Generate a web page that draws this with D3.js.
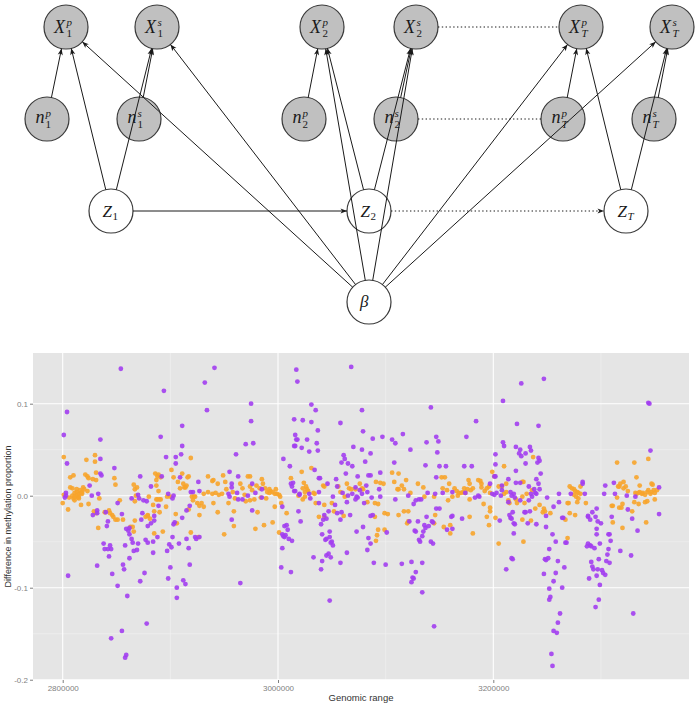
<!DOCTYPE html>
<html><head><meta charset="utf-8">
<script src="https://cdn.jsdelivr.net/npm/d3@7"></script>
<style>body{margin:0;background:#fff} svg{display:block}</style>
</head><body><svg id="c" width="700" height="710"></svg>
<script>
// ---------- DATA (position in kb, difference in methylation proportion) ----------
const purplePoints = [
[2801,0.066],[2804,0.091],[2804,0.035],[2803,0.000],[2802,-0.002],[2803,0.003],[2805,-0.087],
[2835,0.061],[2835,0.040],[2836,0.022],[2835,0.024],[2825,0.011],[2827,0.000],[2833,0.002],[2832,-0.016],[2832,-0.019],[2828,-0.021],[2832,-0.076],
[2838,-0.052],[2839,-0.058],[2842,-0.058],[2845,-0.058],[2840,-0.018],[2841,-0.033],[2842,-0.028],[2843,-0.066],[2844,-0.054],[2846,-0.085],[2845,-0.155],
[2848,0.030],[2851,-0.008],[2851,-0.098],[2854,0.138],[2855,-0.020],[2855,-0.147],[2856,-0.075],[2857,-0.080],[2858,-0.054],[2858,-0.176],[2859,-0.173],[2859,-0.036],[2860,-0.109],[2861,-0.038],[2862,-0.035],[2862,-0.042],[2862,-0.068],[2864,-0.047],[2865,-0.051],[2864,-0.003],[2866,-0.060],[2869,-0.059],[2870,-0.052],[2871,-0.003],[2870,0.001],[2872,0.021],[2872,-0.093],[2874,-0.019],[2873,-0.026],[2875,-0.005],[2876,-0.084],[2877,-0.048],[2878,-0.006],[2878,-0.139],[2879,-0.033],[2879,-0.051],[2882,-0.030],[2882,0.010],[2884,-0.050],[2884,-0.062],[2885,-0.027],[2885,-0.022],[2888,-0.045],[2889,-0.011],[2891,0.064],[2892,0.021],[2894,0.114],[2896,0.042],[2897,-0.060],[2898,0.002],[2898,-0.090],[2899,-0.053],[2901,-0.056],[2902,-0.003],[2903,0.000],[2903,-0.031],[2904,-0.029],[2902,-0.045],[2900,-0.078],[2905,0.035],[2905,0.042],[2906,-0.100],[2906,-0.111],[2908,-0.052],[2909,0.020],[2910,0.045],[2911,0.076],[2911,0.054],[2911,-0.024],[2912,-0.092],[2914,-0.096],[2915,-0.016],[2915,-0.047],[2917,-0.057],[2918,-0.011],[2918,-0.075],[2919,0.004],[2921,0.004],[2923,-0.045],[2924,-0.047],[2926,0.015],[2927,0.005],[2927,-0.045],
[2932,0.123],[2934,0.093],[2941,0.139],[2961,0.045],[2955,0.026],[2963,0.021],[2957,0.013],[2957,0.009],[2954,0.002],[2955,-0.001],[2962,0.003],[2963,-0.004],[2967,-0.004],[2970,0.056],[2972,0.000],[2975,0.100],[2975,0.081],[2977,0.057],[2976,0.013],[2976,-0.016],[2979,0.003],[2985,-0.002],[2985,0.007],[2957,-0.026],[2965,-0.095],
[3017,0.137],[3018,0.124],[3068,0.140],[3031,0.099],[3035,0.093],[3015,0.083],[3023,0.082],[3031,0.080],[3058,0.079],[3078,0.093],[3037,0.071],[3016,0.066],[3017,0.061],[3018,0.061],[3027,0.061],[3079,0.070],[3088,0.062],[3097,0.064],[3106,0.061],[3109,0.057],[3116,0.067],[3015,0.054],[3016,0.054],[3022,0.052],[3029,0.048],[3036,0.057],[3037,0.049],[3070,0.053],[3078,0.050],[3086,0.046],[3061,0.044],[3062,0.040],[3059,0.036],[3065,0.035],[3069,0.032],[3081,0.037],[3005,0.040],[3011,0.032],[3034,0.028],[3038,0.019],[3039,0.019],[3054,0.018],[3063,0.024],[3074,0.021],[3086,0.022],[3095,0.025],[3108,0.036],[3123,0.050],[3138,0.058],[3142,0.096],[3147,0.064],[3149,0.059],[3148,0.047],[3137,0.033],[3150,0.032],[3156,0.032],[3147,0.020],[3175,0.064],[3184,0.081],[3173,0.032],[3180,0.032],[3202,0.045],[3202,0.034],[3201,0.021],[3202,0.021],
[3012,0.013],[3014,0.014],[3013,0.010],[3015,0.005],[3016,0.005],[3020,0.002],[3020,0.001],[3029,0.002],[3030,-0.003],[3038,0.004],[3038,-0.008],[3046,0.013],[3051,-0.001],[3055,0.010],[3053,-0.010],[3055,-0.019],[3060,0.003],[3064,-0.007],[3065,0.000],[3069,0.002],[3072,-0.004],[3073,-0.001],[3074,-0.002],[3076,0.006],[3078,0.002],[3080,-0.008],[3082,0.011],[3083,0.004],[3087,-0.002],[3094,0.007],[3095,-0.001],[3088,-0.021],[3086,-0.022],[3084,0.022],[3072,0.009],[3109,-0.004],[3121,0.000],[3126,-0.009],[3128,-0.005],[3131,-0.004],[3133,-0.004],[3139,0.003],[3146,0.002],[3147,-0.014],[3150,-0.014],[3153,0.003],[3162,0.004],[3162,-0.022],[3161,-0.023],[3171,-0.025],[3174,0.003],[3183,-0.002],[3187,-0.001],[3186,0.000],[3197,0.013],[3199,0.002],[3201,0.001],[3004,-0.012],[3019,-0.017],[3043,-0.021],[3047,-0.017],[3067,-0.021],
[3003,-0.078],[3004,-0.057],[3004,-0.042],[3005,-0.044],[3007,-0.043],[3006,-0.045],[3006,-0.033],[3008,-0.032],[3009,-0.037],[3010,-0.047],[3013,-0.049],[3012,-0.083],[3021,-0.028],[3033,-0.067],[3040,-0.080],[3041,-0.071],[3041,-0.042],[3040,-0.031],[3042,-0.026],[3045,-0.025],[3044,-0.048],[3045,-0.047],[3049,-0.051],[3050,-0.050],[3051,-0.054],[3048,-0.045],[3048,-0.039],[3045,-0.065],[3047,-0.063],[3049,-0.067],[3048,-0.114],[3058,-0.026],[3059,-0.018],[3058,-0.073],[3064,-0.062],[3073,-0.039],[3079,-0.034],[3084,-0.046],[3086,-0.052],[3083,-0.059],[3089,-0.073],[3101,-0.040],[3100,-0.075],[3115,-0.074],[3122,-0.028],[3124,-0.072],[3128,-0.083],[3125,-0.089],[3126,-0.090],[3124,-0.094],[3134,-0.105],[3145,-0.142],[3134,-0.073],[3127,-0.038],[3128,-0.039],[3130,-0.028],[3131,-0.048],[3132,-0.050],[3134,-0.044],[3135,-0.039],[3137,-0.035],[3136,-0.032],[3138,-0.023],[3140,-0.033],[3143,-0.028],[3144,-0.029],[3142,-0.050],[3144,-0.052],[3157,-0.037],[3162,-0.036],[3206,-0.027],
[3226,0.122],[3247,0.127],[3209,0.103],[3344,0.101],[3345,0.100],[3222,0.078],[3242,0.076],[3209,0.058],[3210,0.054],[3221,0.053],[3225,0.050],[3224,0.046],[3226,0.043],[3230,0.046],[3234,0.053],[3235,0.049],[3242,0.041],[3243,0.038],[3241,0.036],[3346,0.049],[3221,0.027],[3230,0.035],[3244,0.024],[3214,0.018],[3221,0.014],[3225,0.014],[3208,0.011],[3233,0.010],[3238,0.007],[3239,0.003],[3240,0.002],[3235,0.002],[3236,-0.001],[3233,-0.005],[3243,0.007],[3240,0.018],[3242,0.013],[3250,-0.002],[3256,-0.012],[3261,0.002],[3261,-0.007],[3272,0.002],[3283,0.013],[3283,0.015],[3285,0.002],[3288,-0.022],[3292,-0.018],[3296,-0.014],[3304,0.011],[3303,0.002],[3312,0.014],[3313,0.002],[3324,0.000],[3325,-0.015],[3332,-0.001],[3354,0.009],[3354,-0.020],[3216,0.004],[3217,0.000],[3219,0.002],[3220,-0.002],[3225,-0.005],[3207,0.000],[3208,0.006],[3230,-0.018],[3234,-0.017],[3203,0.003],[3214,-0.007],[3215,-0.021],[3216,-0.024],[3249,-0.022],[3265,-0.024],[3264,-0.024],[3288,-0.023],[3295,-0.023],
[3212,-0.080],[3217,-0.068],[3218,-0.069],[3219,-0.041],[3219,-0.030],[3220,-0.031],[3218,-0.018],[3217,-0.025],[3232,-0.030],[3229,-0.018],[3240,-0.031],[3249,-0.034],[3247,-0.085],[3248,-0.069],[3249,-0.070],[3251,-0.068],[3252,-0.058],[3255,-0.042],[3258,-0.050],[3260,-0.071],[3258,-0.084],[3256,-0.093],[3252,-0.101],[3264,-0.100],[3253,-0.110],[3252,-0.113],[3262,-0.128],[3260,-0.138],[3256,-0.147],[3259,-0.149],[3254,-0.172],[3255,-0.185],[3266,-0.078],[3267,-0.051],[3268,-0.051],[3290,-0.026],[3297,-0.028],[3300,-0.030],[3296,-0.036],[3296,-0.042],[3299,-0.052],[3307,-0.042],[3308,-0.042],[3309,-0.049],[3307,-0.058],[3306,-0.064],[3308,-0.073],[3305,-0.071],[3288,-0.052],[3290,-0.054],[3291,-0.055],[3294,-0.057],[3287,-0.055],[3291,-0.072],[3292,-0.077],[3293,-0.080],[3297,-0.080],[3298,-0.069],[3301,-0.081],[3302,-0.084],[3304,-0.086],[3296,-0.087],[3289,-0.090],[3299,-0.097],[3298,-0.113],[3295,-0.121],[3310,-0.023],[3318,-0.060],[3328,-0.065],[3330,-0.128],[3329,-0.025],[3334,-0.038]
];
const orangePoints = [
[2801,0.042],[2800,-0.008],[2801,0.001],[2805,-0.015],[2806,-0.002],[2807,0.020],[2807,0.009],[2809,0.008],[2810,0.022],
[2809,0.000],[2811,0.003],[2813,0.004],[2813,0.000],[2815,0.002],[2815,-0.001],[2817,0.003],[2816,0.006],[2818,0.004],[2819,0.009],[2820,0.007],[2810,-0.003],[2811,-0.001],[2814,-0.002],[2815,-0.003],[2818,0.002],
[2811,-0.005],[2813,0.007],[2817,-0.010],[2821,0.023],[2823,0.021],[2822,0.039],[2823,0.005],[2824,0.019],[2824,-0.009],[2828,0.018],[2830,0.044],[2830,0.037],[2831,0.025],[2831,0.017],[2829,-0.017],[2831,-0.019],[2833,-0.035],[2834,-0.003],[2839,-0.018],[2843,-0.016],[2844,-0.019],[2846,-0.021],[2847,-0.023],[2848,0.019],[2849,0.012],[2849,-0.026],[2851,-0.026],[2853,-0.005],[2856,-0.026],[2863,-0.034],[2865,-0.034],[2866,0.012],[2867,0.007],[2867,-0.006],[2866,-0.039],[2867,-0.027],[2868,0.000],[2869,0.009],[2877,-0.023],[2879,-0.021],[2879,-0.022],[2880,-0.001],[2881,-0.025],[2884,-0.010],[2885,-0.017],[2885,-0.041],[2886,0.024],[2887,0.017],[2887,0.011],[2887,-0.004],[2888,-0.004],[2890,-0.004],[2891,-0.004],[2888,0.021],[2889,0.023],[2889,0.005],[2890,-0.018],[2891,0.020],[2893,-0.039],[2896,-0.012],[2897,-0.001],[2900,-0.001],[2901,0.028],[2903,0.020],[2905,-0.020],[2906,-0.030],[2907,0.015],[2909,0.008],[2911,0.024],[2912,0.013],[2913,0.009],[2914,0.009],[2915,0.011],[2916,0.020],[2917,0.021],[2917,-0.015],[2919,0.041],[2919,-0.040],[2920,-0.001],[2921,-0.005],[2922,-0.001],[2923,-0.001],[2925,-0.008],[2927,-0.011],[2927,-0.021],[2926,-0.045],
[2931,0.002],[2935,0.004],[2939,0.002],[2942,0.003],[2945,0.001],[2948,0.002],[2929,-0.008],[2931,-0.012],[2935,0.021],[2939,0.016],[2940,0.017],[2940,-0.008],[2944,0.013],[2949,0.022],[2951,0.015],[2952,0.007],[2954,-0.008],[2958,0.004],[2960,-0.003],[2965,0.013],[2967,0.008],[2969,0.001],[2970,-0.006],[2972,0.021],[2974,0.021],[2974,0.010],[2974,-0.005],[2976,0.006],[2978,-0.004],[2980,0.011],[2981,-0.018],[2983,0.008],[2984,-0.002],
[2944,-0.018],[2959,-0.017],[2950,-0.042],[2959,-0.033],[2979,-0.036],
[2985,0.018],[2986,0.013],[2988,0.008],[2990,0.004],[2992,0.003],[2993,0.005],[2995,0.004],[2997,0.002],[2999,0.002],[3001,0.001],[3002,-0.001],[2998,0.007],[2992,0.007],[2989,-0.003],[2997,-0.012],[3008,-0.019],[3003,-0.008],[3012,0.019],[3022,0.026],[3024,0.014],[3026,0.010],[3027,0.007],[3028,0.005],[3023,0.008],[3025,0.004],[3019,0.000],[3023,-0.004],[3025,-0.001],[3031,0.030],[3033,0.003],[3034,0.002],[3035,-0.008],[3043,-0.010],[3038,-0.023],[3043,-0.023],[3042,0.011],[3043,0.010],[3050,-0.008],[3056,0.010],[3058,0.004],[3064,0.013],[3066,0.008],[3068,0.007],[3072,0.007],[3062,-0.001],[3076,0.013],[3078,0.008],[3079,0.007],[3083,-0.007],[3090,-0.008],[3093,-0.009],[3091,0.015],[3095,0.014],[3098,0.013],[3099,-0.019],[3102,-0.020],[3106,0.025],[3108,0.015],[3111,0.007],[3112,0.007],[3112,0.024],[3115,0.011],[3117,0.007],[3119,0.017],[3117,-0.017],[3121,-0.017],[3123,0.003],[3130,0.013],[3135,0.009],[3136,-0.001],[3145,-0.001],[3152,0.020],[3155,0.020],[3153,0.008],[3157,0.006],[3159,0.013],[3158,-0.005],[3164,0.008],[3166,0.005],[3168,0.003],[3170,0.003],[3172,0.004],[3173,0.008],[3174,0.003],[3176,0.007],[3177,0.017],[3178,0.013],[3179,0.006],[3181,0.008],[3162,-0.001],[3167,0.000],[3178,-0.004],[3186,0.017],[3188,0.016],[3189,0.013],[3189,0.009],[3192,0.005],[3194,0.008],[3196,0.010],[3197,0.003],[3191,-0.009],[3197,-0.013],[3199,0.026],[3201,0.021],[3205,0.010],
[2987,-0.032],[2995,-0.029],[3001,-0.040],[3052,-0.017],[3061,-0.022],[3090,-0.023],[3093,-0.037],[3092,-0.043],[3091,-0.049],[3099,-0.037],[3112,-0.021],[3120,-0.030],[3121,-0.028],[3145,-0.030],[3146,-0.021],[3154,-0.034],[3160,-0.032],[3160,-0.041],[3178,-0.023],[3181,-0.041],[3194,-0.023],[3196,-0.032],[3197,-0.017],[3205,-0.052],
[3237,0.042],[3210,0.032],[3212,0.013],[3208,0.010],[3210,0.002],[3212,0.004],[3214,-0.005],[3215,-0.008],[3221,-0.004],[3222,-0.008],[3227,0.015],[3228,0.015],[3227,-0.001],[3229,-0.008],[3231,0.002],[3236,0.006],[3239,-0.014],[3243,-0.010],[3247,-0.014],[3248,-0.017],[3253,-0.019],
[3271,0.010],[3273,0.008],[3275,0.007],[3276,0.005],[3278,0.004],[3279,0.003],[3281,0.002],[3275,0.001],[3277,-0.001],[3279,-0.003],[3278,-0.007],
[3269,-0.008],[3270,-0.008],[3271,-0.019],[3281,0.010],[3286,-0.008],[3310,-0.011],[3311,-0.011],[3315,0.036],[3316,0.010],[3317,0.010],[3318,0.013],[3321,0.015],[3321,0.008],[3323,0.010],[3325,0.005],[3317,-0.013],[3319,-0.013],[3320,-0.009],[3331,0.036],[3333,0.020],
[3332,0.003],[3333,0.002],[3335,0.003],[3336,0.004],[3338,0.002],[3339,0.003],[3341,0.001],[3343,0.004],[3344,0.006],[3346,0.002],[3347,0.004],[3349,0.006],[3350,0.003],[3352,0.006],[3347,0.013],[3348,0.012],
[3344,0.040],[3336,0.011],[3331,-0.007],[3335,-0.009],[3341,-0.007],[3343,-0.006],[3350,-0.004],[3315,-0.002],
[3202,-0.024],[3228,-0.050],[3227,-0.026],[3235,-0.027],[3246,-0.018],[3267,-0.026],[3269,-0.046],[3276,-0.021],[3311,-0.029],[3320,-0.035],[3329,-0.017],[3342,-0.029]
];
const xTicks = [2800000, 3000000, 3200000];
const xMinorTicks = [2900000, 3100000, 3300000];
const yTicks = [-0.2, -0.1, 0.0, 0.1];
const yMinorTicks = [-0.15, -0.05, 0.05];
const xTitle = "Genomic range";
const yTitle = "Difference in methylation proportion";

// ---------- DIAGRAM (graphical model) ----------
const GRAY = "#c0c0c0";
const diagramNodes = [
  {id:"X1p", x:66,  y:27,  fill:GRAY, main:"X", sup:"p", sub:"1"},
  {id:"X1s", x:157, y:27,  fill:GRAY, main:"X", sup:"s", sub:"1"},
  {id:"X2p", x:322, y:27,  fill:GRAY, main:"X", sup:"p", sub:"2"},
  {id:"X2s", x:416, y:27,  fill:GRAY, main:"X", sup:"s", sub:"2"},
  {id:"XTp", x:581, y:27,  fill:GRAY, main:"X", sup:"p", sub:"T"},
  {id:"XTs", x:672, y:27,  fill:GRAY, main:"X", sup:"s", sub:"T"},
  {id:"n1p", x:47,  y:119, fill:GRAY, main:"n", sup:"p", sub:"1"},
  {id:"n1s", x:139, y:119, fill:GRAY, main:"n", sup:"s", sub:"1"},
  {id:"n2p", x:304, y:119, fill:GRAY, main:"n", sup:"p", sub:"2"},
  {id:"n2s", x:396, y:119, fill:GRAY, main:"n", sup:"s", sub:"2"},
  {id:"nTp", x:563, y:119, fill:GRAY, main:"n", sup:"p", sub:"T"},
  {id:"nTs", x:654, y:119, fill:GRAY, main:"n", sup:"s", sub:"T"},
  {id:"Z1",  x:111, y:211, fill:"#fff", main:"Z", sub:"1"},
  {id:"Z2",  x:369, y:211, fill:"#fff", main:"Z", sub:"2"},
  {id:"ZT",  x:626, y:211, fill:"#fff", main:"Z", sub:"T"},
  {id:"B",   x:369, y:302, fill:"#fff", main:"β"}
];
const diagramEdges = [
  ["n1p","X1p","a"],["Z1","X1p","a"],["B","X1p","a"],
  ["n1s","X1s","a"],["Z1","X1s","a"],["B","X1s","a"],
  ["n2p","X2p","a"],["Z2","X2p","a"],["B","X2p","a"],
  ["n2s","X2s","a"],["Z2","X2s","a"],["B","X2s","a"],
  ["nTp","XTp","a"],["ZT","XTp","a"],["B","XTp","a"],
  ["nTs","XTs","a"],["ZT","XTs","a"],["B","XTs","a"],
  ["Z1","Z2","a"],["Z2","ZT","da"],["X2s","XTp","d"],["n2s","nTp","d"]
];

const svg = d3.select("#c");
const R = 22;
const defs = svg.append("defs");
defs.append("marker").attr("id","ah").attr("viewBox","-7 -3 8 6")
  .attr("refX",0).attr("refY",0).attr("markerWidth",8).attr("markerHeight",6)
  .attr("markerUnits","userSpaceOnUse").attr("orient","auto")
  .append("path").attr("d","M0,0 L-6.5,-2.6 L-4.8,0 L-6.5,2.6 Z").attr("fill","#1a1a1a");

const dg = svg.append("g");
const byId = Object.fromEntries(diagramNodes.map(n => [n.id, n]));
dg.selectAll("circle.node").data(diagramNodes).join("circle")
  .attr("class","node").attr("cx",d=>d.x).attr("cy",d=>d.y).attr("r",R)
  .attr("fill",d=>d.fill).attr("stroke","#3a3a3a").attr("stroke-width",1.2);

const mathFont = "'Liberation Serif', 'DejaVu Serif', serif";
// each label is ONE text element; scripts are absolutely positioned tspans
const labelSpec = {
  X: {mx:-12, my:5.5, ms:18, sx:0.5,  supY:-1.5, subY:9.5},
  n: {mx:-11.5, my:4, ms:18, sx:-1.5, supY:-2.5, subY:8.5},
  Z: {mx:-8.5, my:5.5, ms:17, sx:1.5, subY:8.5},
  "β": {mx:-9, my:5,  ms:17}
};
diagramNodes.forEach(n => {
  const s = labelSpec[n.main];
  const t = dg.append("text").attr("font-family", mathFont).attr("fill","#1a1a1a")
    .attr("text-anchor","start");
  t.append("tspan").attr("x", n.x + s.mx).attr("y", n.y + s.my)
    .attr("font-style","italic").attr("font-size", s.ms).text(n.main);
  if (n.sup) t.append("tspan").attr("x", n.x + s.sx).attr("y", n.y + s.supY)
    .attr("font-style","italic").attr("font-size",11).text(n.sup);
  if (n.sub) t.append("tspan").attr("x", n.x + s.sx).attr("y", n.y + s.subY)
    .attr("font-style", n.sub==="T" ? "italic" : "normal").attr("font-size",11).text(n.sub);
});

diagramEdges.forEach(([s,t,kind]) => {
  const a = byId[s], b = byId[t];
  const dx = b.x-a.x, dy = b.y-a.y, L = Math.hypot(dx,dy);
  const ux = dx/L, uy = dy/L;
  const line = dg.append("line")
    .attr("x1", a.x+ux*R).attr("y1", a.y+uy*R)
    .attr("x2", b.x-ux*R).attr("y2", b.y-uy*R)
    .attr("stroke","#1a1a1a").attr("stroke-width",1);
  if (kind === "a" || kind === "da") line.attr("marker-end","url(#ah)");
  if (kind === "d" || kind === "da") line.attr("stroke-dasharray","1.4,2.4");
});

// ---------- SCATTER ----------
const P = {left:33, right:689, top:353, bottom:680};
const x = d3.scaleLinear().domain([2772400, 3381800]).range([P.left, P.right]);
const y = d3.scaleLinear().domain([-0.2003, 0.1551]).range([P.bottom, P.top]);
const sg = svg.append("g");
sg.append("rect").attr("x",P.left).attr("y",P.top).attr("width",P.right-P.left).attr("height",P.bottom-P.top).attr("fill","#e5e5e5");
sg.selectAll("line.ymin").data(yMinorTicks).join("line").attr("class","ymin")
  .attr("x1",P.left).attr("x2",P.right).attr("y1",d=>y(d)).attr("y2",d=>y(d)).attr("stroke","#f2f2f2").attr("stroke-width",0.6);
sg.selectAll("line.xmin").data(xMinorTicks).join("line").attr("class","xmin")
  .attr("y1",P.top).attr("y2",P.bottom).attr("x1",d=>x(d)).attr("x2",d=>x(d)).attr("stroke","#f2f2f2").attr("stroke-width",0.6);
sg.selectAll("line.ymaj").data(yTicks).join("line").attr("class","ymaj")
  .attr("x1",P.left).attr("x2",P.right).attr("y1",d=>y(d)).attr("y2",d=>y(d)).attr("stroke","#fff").attr("stroke-width",1.1);
sg.selectAll("line.xmaj").data(xTicks).join("line").attr("class","xmaj")
  .attr("y1",P.top).attr("y2",P.bottom).attr("x1",d=>x(d)).attr("x2",d=>x(d)).attr("stroke","#fff").attr("stroke-width",1.1);

sg.append("g").selectAll("circle").data(orangePoints).join("circle")
  .attr("cx",d=>x(d[0]*1000)).attr("cy",d=>y(d[1])).attr("r",2.4)
  .attr("fill","#f7a42b").attr("fill-opacity",0.9);
sg.append("g").selectAll("circle").data(purplePoints).join("circle")
  .attr("cx",d=>x(d[0]*1000)).attr("cy",d=>y(d[1])).attr("r",2.4)
  .attr("fill","#a23ef0").attr("fill-opacity",0.9);

const yAxis = sg.append("g").attr("transform",`translate(${P.left},0)`)
  .call(d3.axisLeft(y).tickValues(yTicks).tickFormat(d=>d.toFixed(1)).tickSize(3).tickPadding(2));
const xAxis = sg.append("g").attr("transform",`translate(0,${P.bottom})`)
  .call(d3.axisBottom(x).tickValues(xTicks).tickFormat(d3.format("d")).tickSize(3).tickPadding(2));
[yAxis, xAxis].forEach(ax => {
  ax.select(".domain").remove();
  ax.selectAll(".tick line").attr("stroke","#7f7f7f");
  ax.selectAll(".tick text").attr("fill","#7f7f7f").attr("font-family","'Liberation Sans', Arial, sans-serif").attr("font-size",8);
});
sg.append("text").attr("x",(P.left+P.right)/2).attr("y",701).attr("text-anchor","middle")
  .attr("font-family","'Liberation Sans', Arial, sans-serif").attr("font-size",9.5).attr("fill","#333").text(xTitle);
sg.append("text").attr("transform",`translate(11,${(P.top+P.bottom)/2}) rotate(-90)`).attr("text-anchor","middle")
  .attr("font-family","'Liberation Sans', Arial, sans-serif").attr("font-size",9).attr("fill","#333").text(yTitle);
</script></body></html>
